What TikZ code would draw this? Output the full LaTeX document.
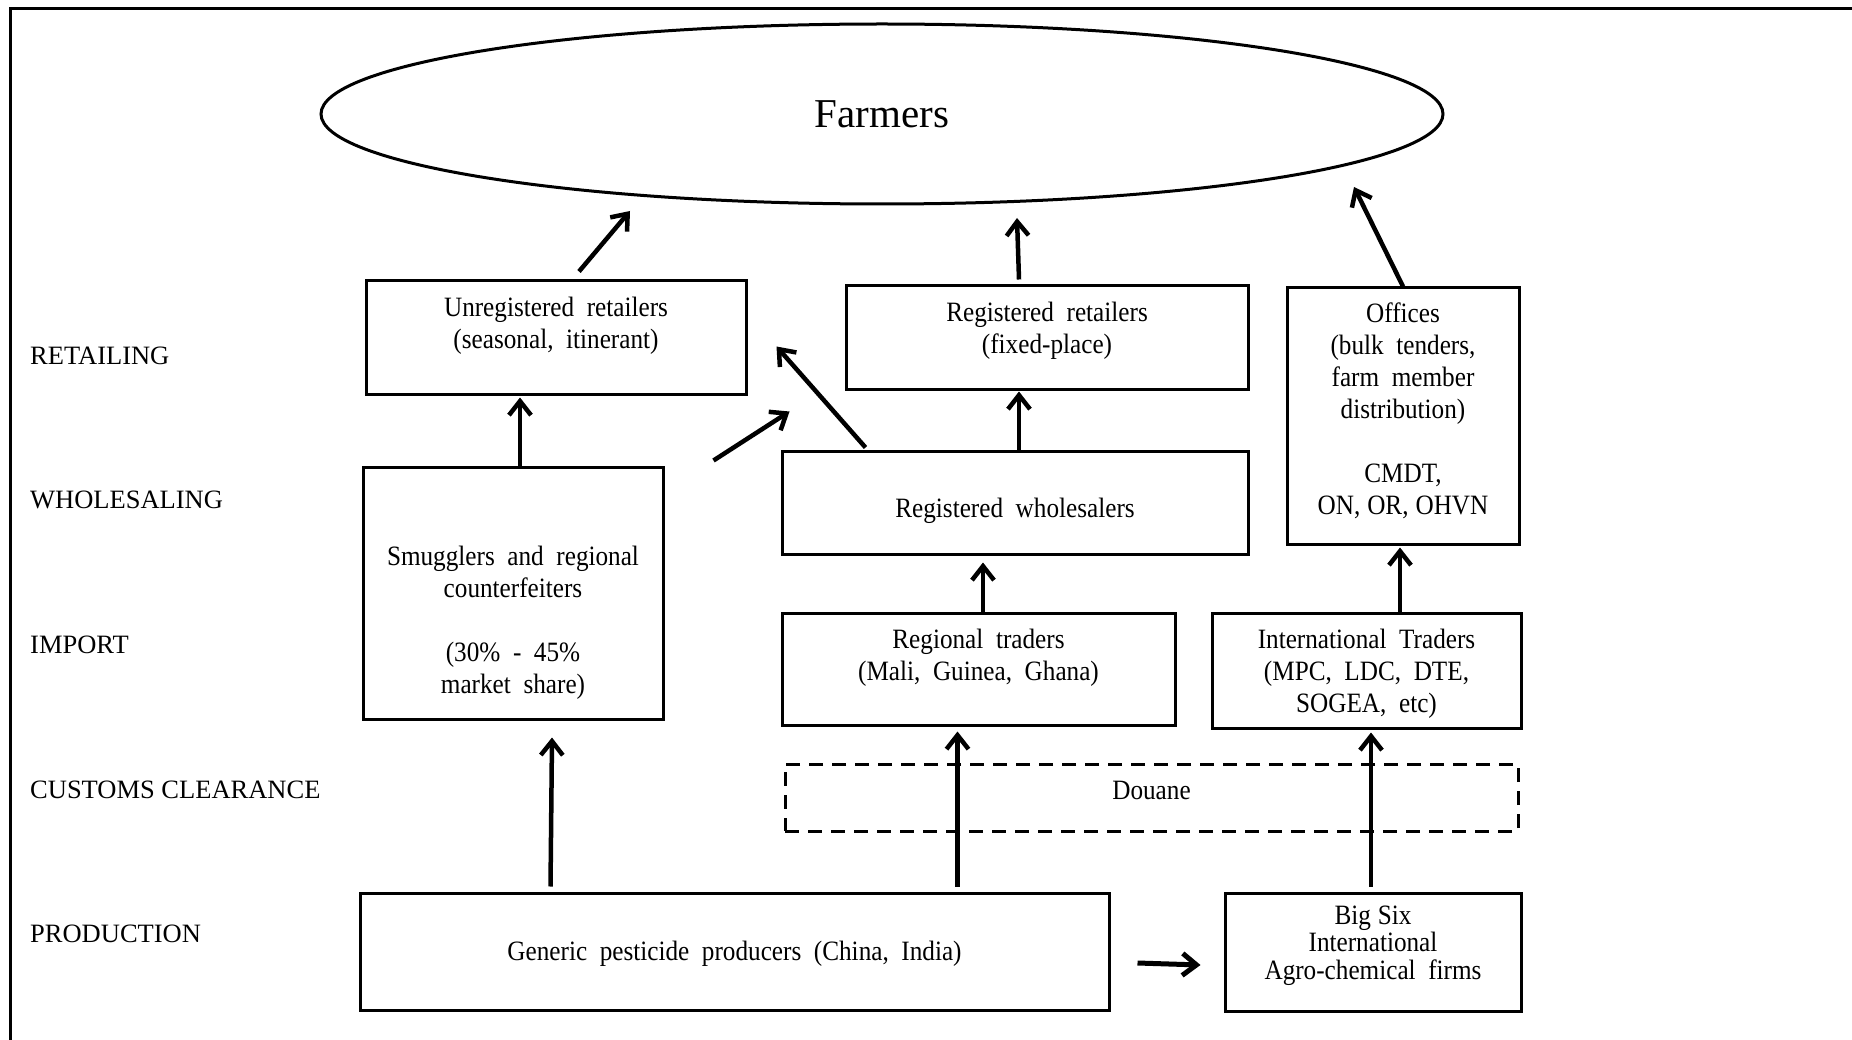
\documentclass[tikz,border=0pt]{standalone}
\usepackage{fontspec}
\setmainfont{Liberation Serif}
\newfontfamily\condfont{Liberation Serif}[FakeStretch=0.9,WordSpace=2]
\usetikzlibrary{arrows.meta,calc,shapes.geometric}
\begin{document}
\begin{tikzpicture}[x=1pt,y=-1pt,
  box/.style={draw,line width=3pt,rectangle,inner sep=0pt},
  txt/.style={align=center,inner sep=0pt,font=\condfont\fontsize{28}{32}\selectfont},
  lbl/.style={anchor=west,inner sep=0pt,font=\fontsize{26.5}{30}\selectfont},
  arr/.style={line width=4.5pt,-{Straight Barb[length=14pt,width=22pt]}}]
\fill[white] (0,0) rectangle (1852,1040);
\useasboundingbox (0,0) rectangle (1852,1040);
% frame
\draw[line width=3pt] (10,1040) -- (10,9) -- (1852,9);
% level labels
\node[lbl] (l1) at (30,356) {RETAILING};
\node[lbl] (l2) at (30,500) {WHOLESALING};
\node[lbl] (l3) at (30,645) {IMPORT};
\node[lbl] (l4) at (30,790) {CUSTOMS CLEARANCE};
\node[lbl] (l5) at (30,934) {PRODUCTION};
% farmers
\node[draw,ellipse,line width=3pt,minimum width=1122pt,minimum height=180pt,inner sep=0pt,
      font=\fontsize{41}{48}\selectfont] (farmers) at (882,114) {Farmers};
% boxes
\node[box,minimum width=380pt,minimum height=113pt] (unreg) at (556,337.5) {};
\node[box,minimum width=402pt,minimum height=103pt] (regret) at (1047,337.5) {};
\node[box,minimum width=232pt,minimum height=256pt] (offices) at (1403,416) {};
\node[box,minimum width=300pt,minimum height=252pt] (smug) at (513,593) {};
\node[box,minimum width=466pt,minimum height=103pt] (regwh) at (1015,502.5) {};
\node[box,minimum width=393pt,minimum height=112pt] (regional) at (978.5,669) {};
\node[box,minimum width=309pt,minimum height=115pt] (inttr) at (1366.5,670.5) {};
\node[draw,line width=3pt,dash pattern=on 14pt off 9pt,minimum width=733pt,minimum height=67pt,inner sep=0pt] (douane) at (1151.5,797.5) {};
\node[box,minimum width=749pt,minimum height=117pt] (generic) at (734.5,951.5) {};
\node[box,minimum width=296pt,minimum height=118pt] (bigsix) at (1373,952) {};
% texts
\node[txt,anchor=north] (unregt) at ($(unreg.north)+(0,17.5)$) {Unregistered retailers\\(seasonal, itinerant)};
\node[txt,anchor=north] (regrett) at ($(regret.north)+(0,17.5)$) {Registered retailers\\(fixed-place)};
\node[txt,anchor=north] (officest) at ($(offices.north)+(0,16.5)$) {Offices\\(bulk tenders,\\farm member\\distribution)\\[32pt]CMDT,\\ON,\hspace{7pt}OR,\hspace{7pt}OHVN};
\node[txt,anchor=north] (smugt) at ($(smug.north)+(0,80.5)$) {Smugglers and regional\\counterfeiters\\[32pt](30\% - 45\%\\market share)};
\node[txt] (regwht) at ($(regwh.center)+(0,8)$) {Registered wholesalers};
\node[txt,anchor=north] (regionalt) at ($(regional.north)+(0,17.5)$) {Regional traders\\(Mali, Guinea, Ghana)};
\node[txt,anchor=north] (inttrt) at ($(inttr.north)+(0,17.5)$) {International Traders\\(MPC, LDC, DTE,\\SOGEA, etc)};
\node[txt] (douanet) at ($(douane.center)+(0,-7)$) {Douane};
\node[txt] (generict) at ($(generic.center)+(0,2.5)$) {Generic pesticide producers (China, India)};
\node[txt,anchor=north,font=\condfont\fontsize{28}{27.5}\selectfont] (bigsixt) at ($(bigsix.north)+(0,14)$) {Big\hspace{7pt}Six\\International\\Agro-chemical firms};
% arrows
\draw[arr] ($(unreg.north)+(23,-8)$) -- ($(farmers.center)+(-252,97)$);
\draw[arr] ($(regret.north)+(-28,-5)$) -- ($(farmers.center)+(135,104)$);
\draw[arr] (offices.north) -- ($(farmers.center)+(472,73)$);
\draw[arr] ($(smug.north)+(7,0)$) -- ($(unreg.south)+(-36,2)$);
\draw[arr] ($(smug.north east)+(49,-5)$) -- ($(regwh.north west)+(9,-38)$);
\draw[arr] ($(regwh.north west)+(85,-2)$) -- ($(unreg.north east)+(29,67)$);
\draw[arr] ($(regwh.north)+(4,0)$) -- ($(regret.south)+(-28,1)$);
\draw[arr] ($(regional.north)+(4.5,0)$) -- ($(regwh.south)+(-32,7)$);
\draw[arr] ($(inttr.north)+(33.5,0)$) -- ($(offices.south)+(-3,2)$);
\draw[arr] ($(generic.north west)+(192,-5)$) -- ($(smug.south)+(39,17)$);
\draw[arr] ($(generic.north west)+(599,-5)$) -- ($(regional.south west)+(177,5)$);
\draw[arr] ($(bigsix.north)+(-2,-5)$) -- ($(inttr.south)+(4.5,3)$);
\draw[arr,line width=5pt] ($(generic.east)+(27,11.5)$) -- ($(bigsix.west)+(-23,13)$);
\end{tikzpicture}
\end{document}
